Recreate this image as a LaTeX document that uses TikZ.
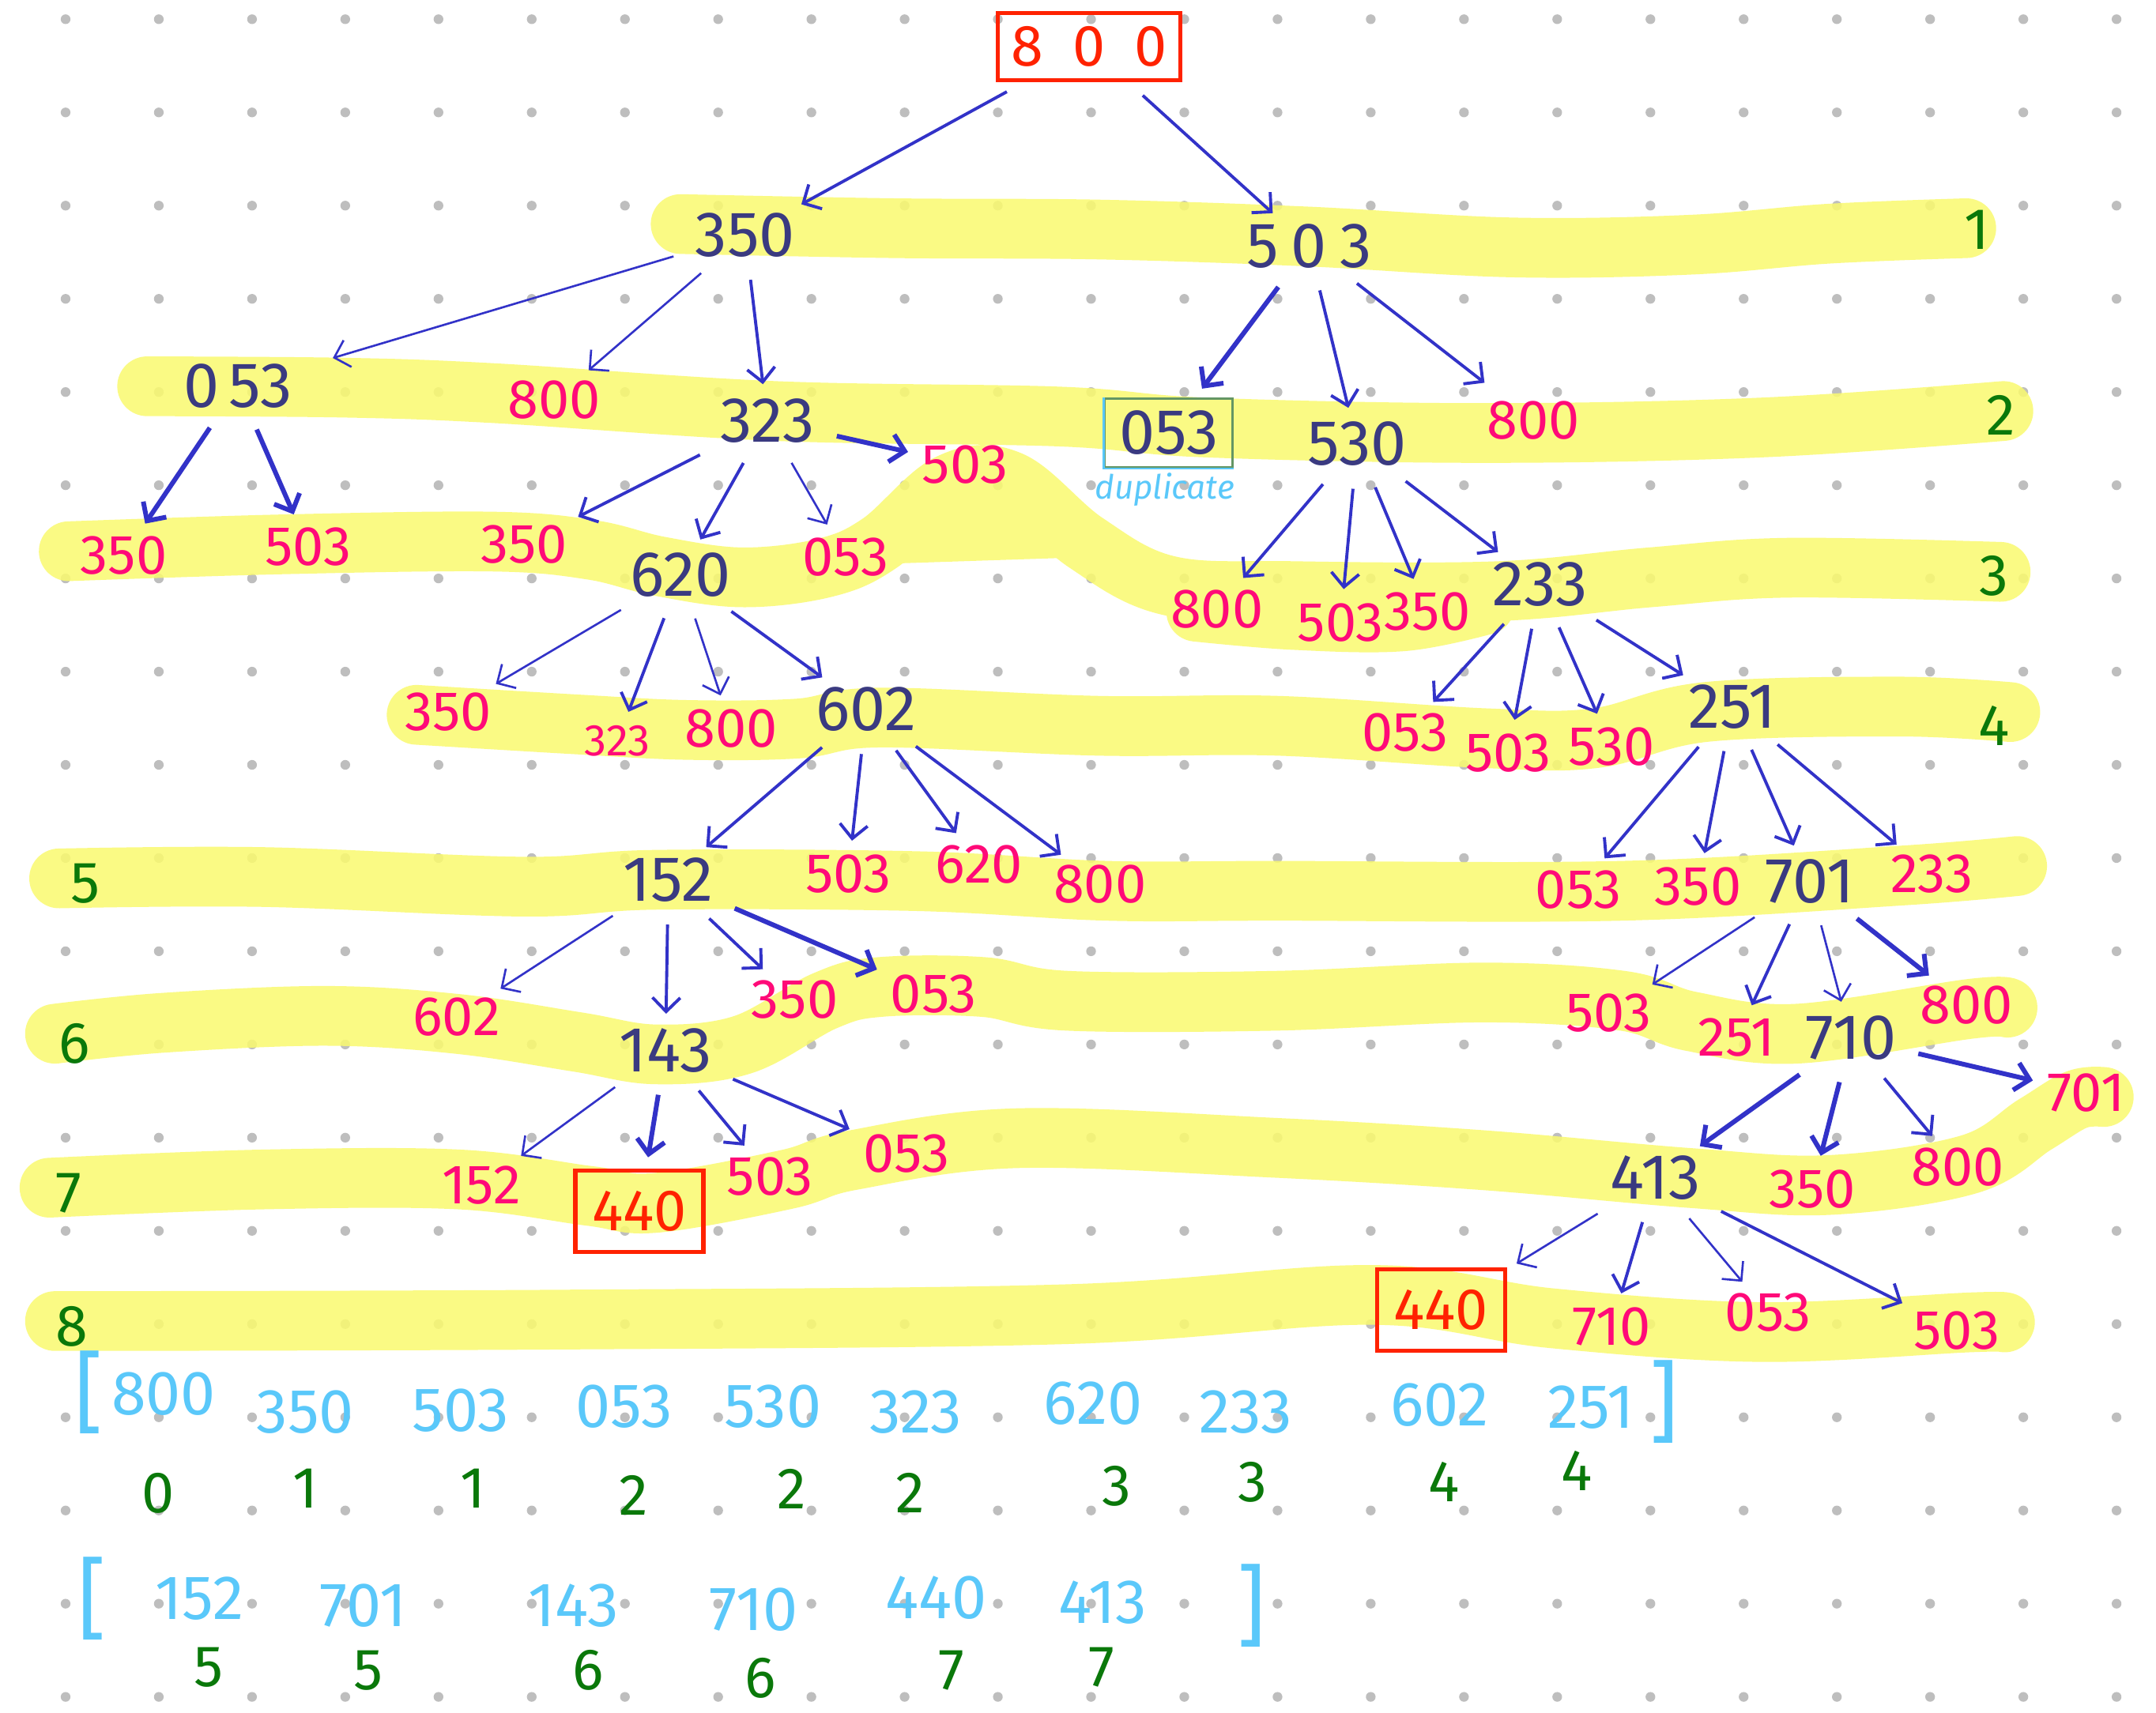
\documentclass[tikz,border=0pt]{standalone}
\usepackage{fontspec}
\setmainfont{Fira Sans}
\usetikzlibrary{arrows.meta}

\definecolor{treenavy}{RGB}{58,58,128}
\definecolor{linkblue}{RGB}{50,50,200}
\definecolor{newpink}{RGB}{255,10,120}
\definecolor{goalred}{RGB}{255,34,0}
\definecolor{depthgreen}{RGB}{10,120,10}
\definecolor{queueblue}{RGB}{90,200,250}
\definecolor{hilite}{RGB}{250,250,111}
\definecolor{dotgrey}{RGB}{190,190,190}
\definecolor{dupgreen}{RGB}{100,150,100}

\tikzset{
  griddot/.style={fill=dotgrey},
  band/.style={draw=hilite, line width=21.5pt, line cap=round, line join=round},
  visited/.style={text=treenavy, font=\fontsize{23}{23}\selectfont, inner sep=1pt},
  neighbour/.style={text=newpink, font=\fontsize{20}{20}\selectfont, inner sep=1pt},
  depthno/.style={text=depthgreen, font=\fontsize{21}{21}\selectfont, inner sep=1pt},
  queued/.style={text=queueblue, font=\fontsize{22.5}{22.5}\selectfont, inner sep=1pt},
  goal/.style={draw=goalred, line width=1.5pt, text=goalred, font=\fontsize{21}{21}\selectfont,
    minimum width=1.62cm, minimum height=1.03cm, inner sep=1pt},
  link/.style={draw=linkblue, line width=1.1pt, -{Straight Barb[length=5pt,width=10pt]},
    shorten <=7pt, shorten >=4pt},
  linkthin/.style={link, line width=0.75pt},
  linkbold/.style={link, line width=1.7pt}
}

\begin{document}
\begin{tikzpicture}[x=0.0174cm, y=-0.0174cm]

    \useasboundingbox (0,0) rectangle (1568,1246);
    \fill[white] (0,0) rectangle (1568,1246);

    % dot paper
    \foreach \i in {0,...,22}
      \foreach \j in {0,...,18}
        \fill[griddot] (47.7+67.8*\i, 14+67.8*\j) circle[radius=1.75pt];

    % one highlighter stroke per level
    \begin{scope}[transparency group, opacity=0.85]
      \draw[band] plot[smooth, tension=0.6] coordinates {(495,163) (650,166) (800,167) (950,172) (1100,180) (1230,178) (1330,170) (1430,166)};
      \draw[band] plot[smooth, tension=0.6] coordinates {(107,281) (250,282) (359,286) (564,299) (770,303) (877,311) (1079,315) (1281,311) (1457,299)};
      \draw[band] plot[smooth, tension=0.6] coordinates {(50,401) (205,396) (359,394) (430,400) (480,412) (540,420) (600,413) (640,395) (690,352) (735,350) (790,395) (850,426) (941,430) (1090,430) (1200,420) (1300,413) (1455,416)};
      \fill[hilite] (648,410) -- (680,352) -- (745,352) -- (769,406) -- cycle;
      \draw[band] plot[smooth, tension=0.6] coordinates {(870,445) (941,451) (1020,452) (1080,440)};
      \draw[band] plot[smooth, tension=0.6] coordinates {(303,520) (420,527) (500,531) (580,530) (640,522) (800,528) (930,528) (1080,537) (1160,537) (1240,518) (1380,514) (1462,518)};
      \draw[band] plot[smooth, tension=0.6] coordinates {(43,639) (191,638) (381,645) (477,640) (667,641) (805,648) (928,648) (1180,648) (1382,637) (1467,630)};
      \draw[band] plot[smooth, tension=0.6] coordinates {(40,752) (119,744) (238,739) (334,745) (420,758) (477,767) (540,760) (600,728) (640,718) (715,718) (776,728) (928,728) (1079,722) (1180,728) (1230,743) (1306,752) (1432,734) (1460,733)};
      \draw[band] plot[smooth, tension=0.6] coordinates {(36,864) (191,858) (334,858) (429,870) (477,875) (572,858) (620,844) (739,828) (928,835) (1079,844) (1230,857) (1331,862) (1432,847) (1480,818) (1510,800) (1530,798)};
      \draw[band] plot[smooth, tension=0.6] coordinates {(40,961) (400,960) (776,956) (998,942) (1129,959) (1281,969) (1432,962) (1458,962)};
    \end{scope}

    \node(root) [goal, minimum width=2.31cm, minimum height=0.85cm] at (792,34) {8\hspace{0.5em}0\hspace{0.5em}0};

    % level 1
    \node(r1a) [visited] at (542,171) {350};
    \node(r1b) [visited] at (952,179) {5\hspace{0.2em}0\hspace{0.2em}3};

    % level 2
    \node(c053) [visited] at (173,281) {0\hspace{0.15em}53};
    \node(c800) [neighbour] at (403,291) {800};
    \node(c323) [visited] at (558,306) {323};
    \node(d053) [visited, draw=dupgreen, line width=0.8pt, minimum width=1.62cm, minimum height=0.87cm] at (850,315) {053};
    \draw[queueblue, line width=0.8pt] (d053.north west) |- (d053.south east);
    \node(dupnote) [text=queueblue, font=\fontsize{12}{12}\selectfont\itshape, inner sep=0pt] at (847,356) {duplicate};
    \node(c530) [visited] at (987,323) {530};
    \node(c800b) [neighbour] at (1115,306) {800};

    % level 3
    \node(e350a) [neighbour] at (90,404) {350};
    \node(e503a) [neighbour] at (224,398) {503};
    \node(e350b) [neighbour] at (381,396) {350};
    \node(e620) [visited] at (495,418) {620};
    \node(e053) [neighbour] at (615,405) {053};
    \node(e503b) [neighbour] at (702,338) {503};
    \node(e800) [neighbour] at (885,443) {800};
    \node(e503c) [neighbour] at (975,453) {503};
    \node(e350c) [neighbour] at (1038,445) {350};
    \node(e233) [visited] at (1120,425) {233};

    % level 4
    \node(f350) [neighbour] at (326,518) {350};
    \node(f323) [neighbour, font=\fontsize{16}{16}\selectfont] at (449,539) {323};
    \node(f800) [neighbour] at (532,530) {800};
    \node(f602) [visited] at (630,516) {602};
    \node(f053) [neighbour] at (1022,533) {053};
    \node(f503) [neighbour] at (1097,548) {503};
    \node(f530) [neighbour] at (1172,543) {530};
    \node(f251) [visited] at (1260,514) {251};

    % level 5
    \node(g152) [visited] at (486,640) {152};
    \node(g503) [neighbour] at (617,636) {503};
    \node(g620) [neighbour] at (712,629) {620};
    \node(g800) [neighbour] at (800,643) {800};
    \node(g053) [neighbour] at (1148,647) {053};
    \node(g350) [neighbour] at (1235,645) {350};
    \node(g701) [visited] at (1316,641) {701};
    \node(g233) [neighbour] at (1405,636) {233};

    % level 6
    \node(h602) [neighbour] at (332,740) {602};
    \node(h143) [visited] at (484,764) {143};
    \node(h350) [neighbour] at (578,727) {350};
    \node(h053) [neighbour] at (679,723) {053};
    \node(h503) [neighbour] at (1170,737) {503};
    \node(h251) [neighbour] at (1263,755) {251};
    \node(h710) [visited] at (1346,755) {710};
    \node(h800) [neighbour] at (1430,731) {800};

    % level 7
    \node(i152) [neighbour] at (350,862) {152};
    \node(i440) [goal] at (465,881) {440};
    \node(i503) [neighbour] at (560,856) {503};
    \node(i053) [neighbour] at (659,839) {053};
    \node(i413) [visited] at (1204,857) {413};
    \node(i350) [neighbour] at (1318,865) {350};
    \node(i800) [neighbour] at (1424,849) {800};
    \node(i701) [neighbour] at (1517,795) {701};

    % level 8
    \node(j440) [goal] at (1048,953) {440};
    \node(j710) [neighbour] at (1172,965) {710};
    \node(j053) [neighbour] at (1286,955) {053};
    \node(j503) [neighbour] at (1423,968) {503};

    \foreach \d/\x/\y in {1/1438/167, 2/1455/302, 3/1450/419, 4/1450/528, 5/62/643, 6/54/759, 7/50/868, 8/52/965}
      \node(lvl\d) [depthno] at (\x,\y) {\d};

    \draw[link] (root) -- (r1a);
    \draw[link] (root) -- (r1b);

    \draw[linkthin, shorten >=14pt] (r1a) -- (c053);
    \draw[linkthin] (r1a) -- (c800);
    \draw[link] (r1a) -- (c323);
    \draw[linkbold] (r1b) -- (d053);
    \draw[link] (r1b) -- (c530);
    \draw[link, shorten >=9pt] (r1b) -- (c800b);

    \draw[linkbold] (c053) -- (e350a);
    \draw[linkbold] (c053) -- (e503a);
    \draw[link] (c323) -- (e350b);
    \draw[link] (c323) -- (e620);
    \draw[linkthin] (c323) -- (e053);
    \draw[linkbold] (c323) -- (e503b);
    \draw[link] (c530) -- (e800);
    \draw[link] (c530) -- (e503c);
    \draw[link] (c530) -- (e350c);
    \draw[link] (c530) -- (e233);

    \draw[linkthin] (e620) -- (f350);
    \draw[link] (e620) -- (f323);
    \draw[linkthin] (e620) -- (f800);
    \draw[link] (e620) -- (f602);
    \draw[link] (e233) -- (f053);
    \draw[link] (e233) -- (f503);
    \draw[link] (e233) -- (f530);
    \draw[link] (e233) -- (f251);

    \draw[link] (f602) -- (g152);
    \draw[link] (f602) -- (g503);
    \draw[link] (f602) -- (g620);
    \draw[link] (f602) -- (g800);
    \draw[link] (f251) -- (g053);
    \draw[link] (f251) -- (g350);
    \draw[link] (f251) -- (g701);
    \draw[link] (f251) -- (g233);

    \draw[linkthin] (g152) -- (h602);
    \draw[link] (g152) -- (h143);
    \draw[link] (g152) -- (h350);
    \draw[linkbold] (g152) -- (h053);
    \draw[linkthin] (g701) -- (h503);
    \draw[link] (g701) -- (h251);
    \draw[linkthin] (g701) -- (h710);
    \draw[linkbold] (g701) -- (h800);

    \draw[linkthin] (h143) -- (i152);
    \draw[linkbold] (h143) -- (i440);
    \draw[link] (h143) -- (i503);
    \draw[link] (h143) -- (i053);
    \draw[linkbold] (h710) -- (i413);
    \draw[linkbold] (h710) -- (i350);
    \draw[link] (h710) -- (i800);
    \draw[linkbold] (h710) -- (i701);

    \draw[linkthin] (i413) -- (j440);
    \draw[link] (i413) -- (j710);
    \draw[linkthin] (i413) -- (j053);
    \draw[link] (i413) -- (j503);

    % the two queues with their depths
    \node(qaopen) [queued, font=\fontsize{32}{32}\selectfont] at (65,1013) {[};
    \node(qaclose) [queued, font=\fontsize{32}{32}\selectfont] at (1210,1020) {]};
    \foreach \v/\x/\y [count=\k] in {800/119/1014, 350/222/1027, 503/335/1026, 053/454/1023, 530/562/1023, 323/666/1027, 620/795/1021, 233/906/1027, 602/1047/1022, 251/1157/1024}
      \node(qa\k) [queued] at (\x,\y) {\v};
    \foreach \d/\x/\y [count=\k] in {0/115/1086, 1/222/1083, 1/344/1083, 2/461/1088, 2/576/1083, 2/662/1086, 3/812/1081, 3/911/1078, 4/1050/1078, 4/1147/1070}
      \node(da\k) [depthno] at (\x,\y) {\d};

    \node(qbopen) [queued, font=\fontsize{32}{32}\selectfont] at (67,1163) {[};
    \node(qbclose) [queued, font=\fontsize{32}{32}\selectfont] at (910,1168) {]};
    \foreach \v/\x/\y [count=\k] in {152/145/1163, 701/264/1168, 143/417/1168, 710/548/1171, 440/681/1162, 413/802/1166}
      \node(qb\k) [queued] at (\x,\y) {\v};
    \foreach \d/\x/\y [count=\k] in {5/152/1213, 5/268/1215, 6/428/1215, 6/553/1221, 7/692/1215, 7/801/1213}
      \node(db\k) [depthno] at (\x,\y) {\d};

\end{tikzpicture}
\end{document}
